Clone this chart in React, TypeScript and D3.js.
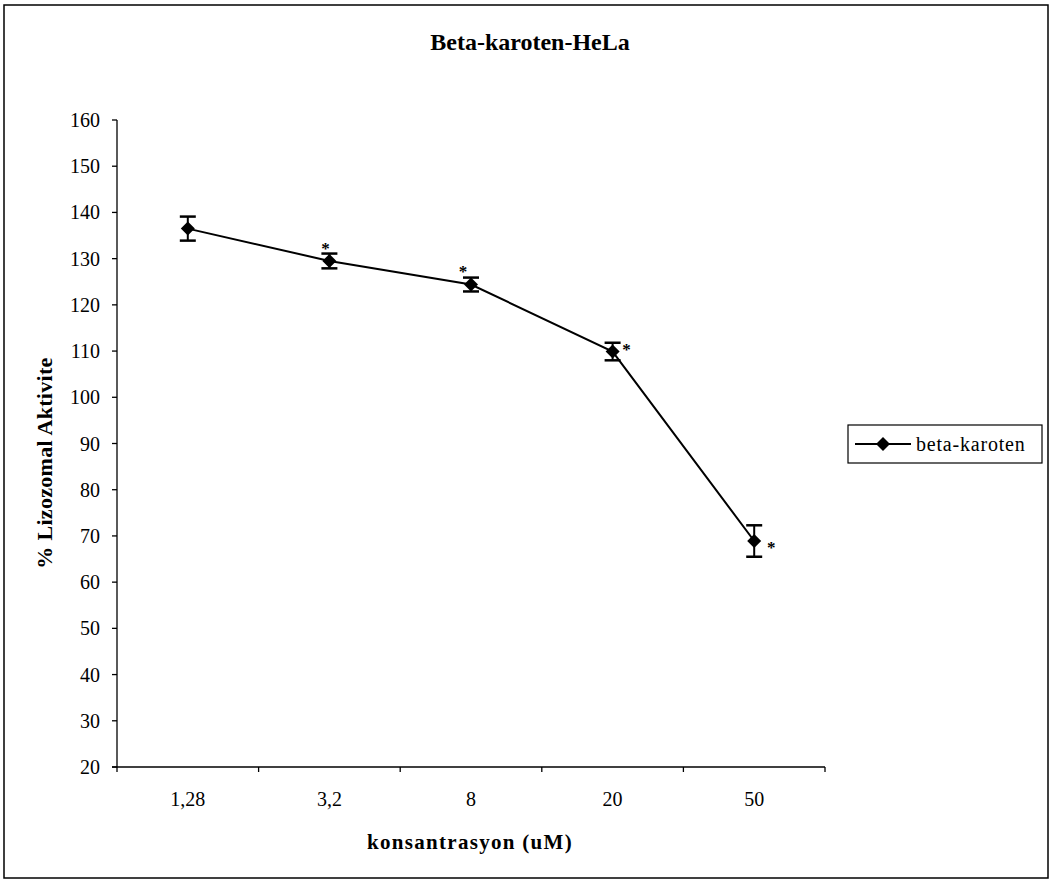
import React from "react";
import * as d3 from "d3";

const categories = ["1,28", "3,2", "8", "20", "50"];
const values = [136.5, 129.5, 124.4, 109.9, 68.9];
const errors = [2.6, 1.6, 1.5, 1.9, 3.4];
const significant = [false, true, true, true, true];
const yTicks = [20, 30, 40, 50, 60, 70, 80, 90, 100, 110, 120, 130, 140, 150, 160];
const seriesName = "beta-karoten";

const W = 1052;
const H = 883;
const FONT = "'Liberation Serif', 'Times New Roman', serif";

export default function App() {
  const x0 = 117, x1 = 825, yTop = 120, yBot = 767;
  const x = d3.scaleBand<string>().domain(categories).range([x0, x1]);
  const y = d3.scaleLinear().domain([20, 160]).range([yBot, yTop]);
  const cx = (c: string) => (x(c) as number) + x.bandwidth() / 2;
  const line = d3
    .line<number>()
    .x((_, i) => cx(categories[i]))
    .y((v) => y(v));
  const diamond = (px: number, py: number, r: number) =>
    `M${px},${py - r}L${px + r},${py}L${px},${py + r}L${px - r},${py}Z`;
  const starOffsets: [number, number][] = [
    [0, 0],
    [-4, -7],
    [-8, -8],
    [14, 3],
    [17, 12],
  ];
  const boundaries = categories.map((c) => x(c) as number).concat([x1]);

  return (
    <svg
      width={W}
      height={H}
      style={{ position: "absolute", left: 0, top: 0, background: "#fff" }}
      fontFamily={FONT}
    >
      <rect x={4} y={5} width={1044} height={873} fill="#fff" stroke="#000" strokeWidth={1.5} />
      <text x={530} y={50} textAnchor="middle" fontSize={24} fontWeight="bold">
        Beta-karoten-HeLa
      </text>

      {/* Y axis */}
      <line x1={x0} x2={x0} y1={yTop} y2={yBot} stroke="#000" strokeWidth={1.3} />
      {yTicks.map((t) => (
        <g key={t}>
          <line x1={x0 - 5} x2={x0} y1={y(t)} y2={y(t)} stroke="#000" strokeWidth={1.3} />
          <text x={100} y={y(t)} dy="0.35em" textAnchor="end" fontSize={20}>
            {t}
          </text>
        </g>
      ))}
      <text
        transform={`translate(52,463) rotate(-90)`}
        textAnchor="middle"
        fontSize={22}
        fontWeight="bold"
        letterSpacing={0.3}
      >
        % Lizozomal Aktivite
      </text>

      {/* X axis */}
      <line x1={x0 - 5} x2={x1} y1={yBot} y2={yBot} stroke="#000" strokeWidth={1.3} />
      {boundaries.map((b, i) => (
        <line key={i} x1={b} x2={b} y1={yBot} y2={yBot + 5} stroke="#000" strokeWidth={1.3} />
      ))}
      {categories.map((c) => (
        <text key={c} x={cx(c)} y={806} textAnchor="middle" fontSize={20}>
          {c}
        </text>
      ))}
      <text x={470} y={849} textAnchor="middle" fontSize={21} fontWeight="bold" letterSpacing={1.3}>
        konsantrasyon (uM)
      </text>

      {/* Series */}
      <path d={line(values) || ""} fill="none" stroke="#000" strokeWidth={2} />
      {values.map((v, i) => {
        const px = cx(categories[i]);
        const top = y(v + errors[i]);
        const bot = y(v - errors[i]);
        return (
          <g key={i}>
            <line x1={px} x2={px} y1={top} y2={bot} stroke="#000" strokeWidth={2} />
            <line x1={px - 8} x2={px + 8} y1={top} y2={top} stroke="#000" strokeWidth={2.5} />
            <line x1={px - 8} x2={px + 8} y1={bot} y2={bot} stroke="#000" strokeWidth={2.5} />
            <path d={diamond(px, y(v), 7)} fill="#000" />
            {significant[i] && (
              <text
                x={px + starOffsets[i][0]}
                y={y(v) + starOffsets[i][1]}
                textAnchor="middle"
                fontSize={17}
                fontWeight="bold"
              >
                *
              </text>
            )}
          </g>
        );
      })}

      {/* Legend */}
      <rect x={848} y={425} width={194} height={38} fill="#fff" stroke="#000" strokeWidth={1.2} />
      <line x1={855} x2={911} y1={444} y2={444} stroke="#000" strokeWidth={2} />
      <path d={diamond(883, 444, 7)} fill="#000" />
      <text x={916} y={444} dy="0.35em" fontSize={20} letterSpacing={0.8}>
        {seriesName}
      </text>
    </svg>
  );
}
